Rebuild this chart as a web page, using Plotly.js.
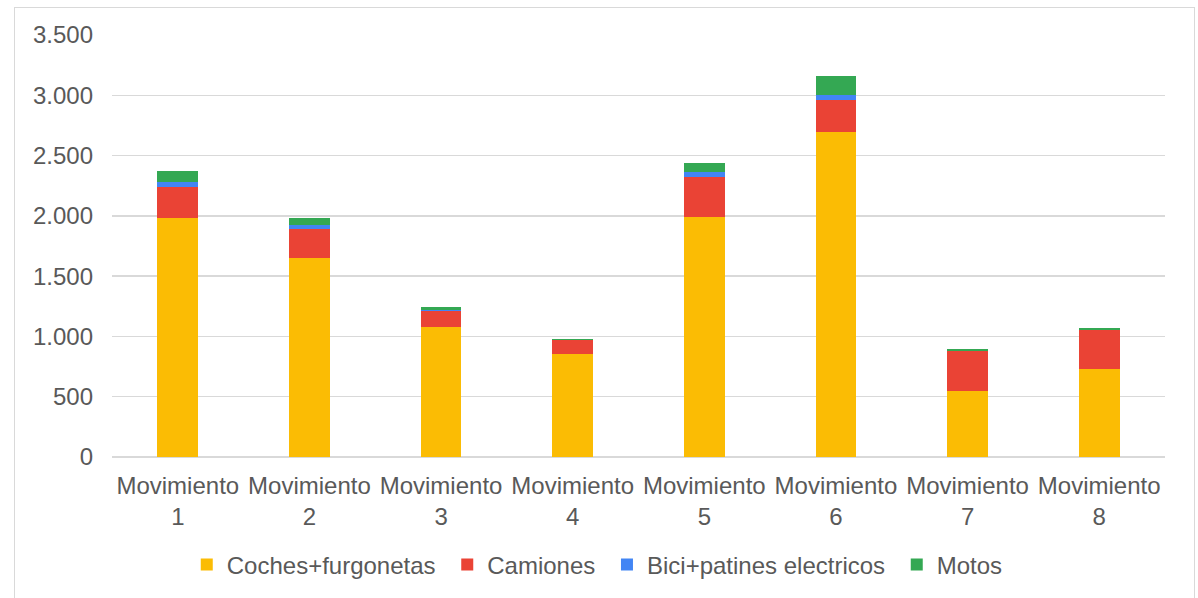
<!DOCTYPE html>
<html>
<head>
<meta charset="utf-8">
<script src="https://cdn.plot.ly/plotly-3.0.1.min.js"></script>
<style>
html,body{margin:0;padding:0;background:#fff;}
#wrap{position:relative;width:1198px;height:598px;overflow:hidden;}
#chart{position:absolute;left:0;top:0;width:1198px;height:598px;}
#frame{position:absolute;left:14px;top:7px;width:1179px;height:620px;border:1px solid #d9d9d9;pointer-events:none;}
</style>
</head>
<body>
<div id="wrap"><div id="chart"></div><div id="frame"></div></div>
<script>
const categories = ["Movimiento<br>1","Movimiento<br>2","Movimiento<br>3","Movimiento<br>4","Movimiento<br>5","Movimiento<br>6","Movimiento<br>7","Movimiento<br>8"];
const cochesFurgonetas = [1985, 1650, 1075, 855, 1990, 2695, 545, 732];
const camiones = [255, 245, 140, 112, 335, 262, 333, 322];
const biciPatines = [38, 33, 5, 3, 42, 47, 3, 2];
const motos = [92, 58, 25, 9, 75, 157, 16, 14];
const seriesNames = ["Coches+furgonetas\u00a0","Camiones\u00a0","Bici+patines electricos\u00a0","Motos"];
const yTickVals = [0,500,1000,1500,2000,2500,3000,3500];
const yTickText = ["0","500","1.000","1.500","2.000","2.500","3.000","3.500"];

const colors = ["#FBBC04","#EA4335","#4285F4","#34A853"];
const data = [cochesFurgonetas, camiones, biciPatines, motos].map((vals,i)=>({
  type:"bar", x:categories, y:vals, name:seriesNames[i],
  marker:{color:colors[i], line:{width:0}},
  hoverinfo:"y+name"
}));

const font = {family:"Liberation Sans, Arial, sans-serif", size:24, color:"#595959"};
const layout = {
  width:1198, height:598,
  margin:{l:112, r:33, t:35, b:140, pad:0},
  barmode:"stack",
  bargap:0.69,
  paper_bgcolor:"rgba(0,0,0,0)",
  plot_bgcolor:"#fff",
  font:font,
  showlegend:true,
  legend:{orientation:"h", x:0.071, xanchor:"left", y:-0.253, yanchor:"middle",
    font:font, itemwidth:30, traceorder:"normal", itemclick:false},
  xaxis:{type:"category", tickfont:font, showgrid:false, showline:false, zeroline:false, ticks:"", ticklabelstandoff:12},
  yaxis:{range:[0,3500], tickvals:yTickVals, ticktext:yTickText, tickfont:font,
    showgrid:true, gridcolor:"#d9d9d9", gridwidth:1.5, zeroline:true, zerolinecolor:"#d9d9d9", zerolinewidth:1.5,
    showline:false, ticks:"", ticklabelstandoff:18}
};
Plotly.newPlot("chart", data, layout, {displayModeBar:false, staticPlot:true});
</script>
</body>
</html>
